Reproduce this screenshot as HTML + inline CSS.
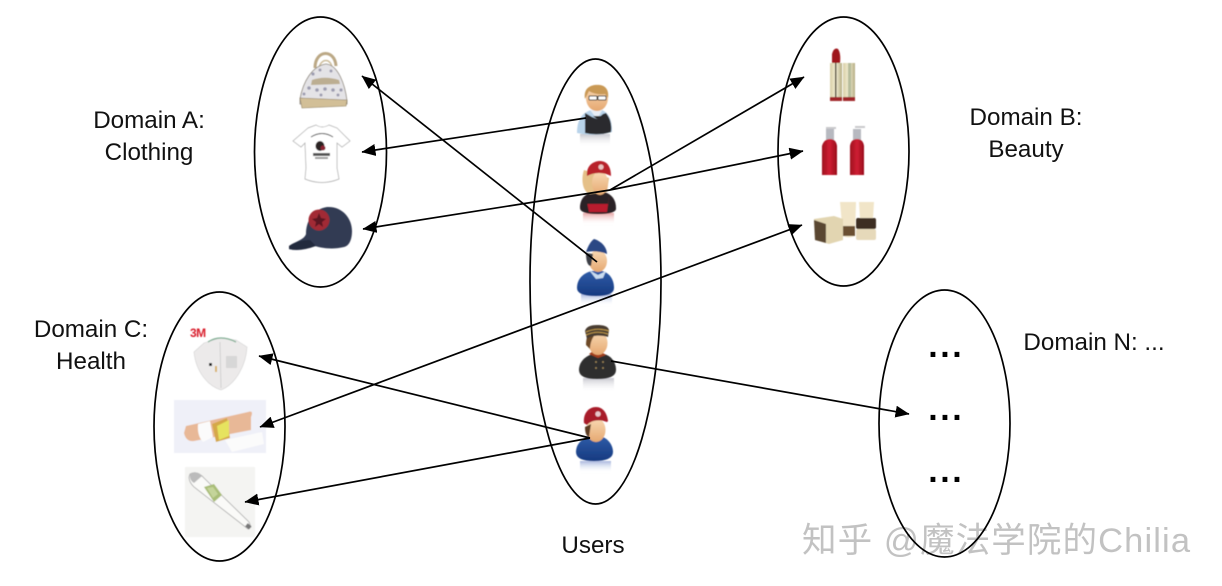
<!DOCTYPE html>
<html><head><meta charset="utf-8">
<style>
html,body{margin:0;padding:0;background:#fff;width:1222px;height:586px;overflow:hidden}
svg{display:block}
.t{font-family:"Liberation Sans",sans-serif;font-size:24.2px;fill:#111;text-anchor:middle}
.d{font-family:"Liberation Sans",sans-serif;font-weight:bold;font-size:34px;letter-spacing:2.55px;fill:#000}
.e{fill:none;stroke:#000;stroke-width:1.7}
.a{stroke:#000;stroke-width:1.7;fill:none;marker-end:url(#ah)}
</style></head><body>
<svg xmlns="http://www.w3.org/2000/svg" width="1222" height="586" viewBox="0 0 1222 586">
<defs>
<marker id="ah" viewBox="0 0 14 12" refX="13.5" refY="6" markerUnits="userSpaceOnUse" markerWidth="14" markerHeight="12" orient="auto-start-reverse"><path d="M0 0L14 6L0 12Z" fill="#000"/></marker>
<filter id="b1"><feGaussianBlur stdDeviation="0.6"/></filter>
<linearGradient id="refl" x1="0" y1="0" x2="0" y2="1"><stop offset="0" stop-color="#9a9aa8" stop-opacity=".55"/><stop offset="1" stop-color="#fff" stop-opacity="0"/></linearGradient>
<linearGradient id="reflb" x1="0" y1="0" x2="0" y2="1"><stop offset="0" stop-color="#6d86c8" stop-opacity=".6"/><stop offset="1" stop-color="#fff" stop-opacity="0"/></linearGradient>
<linearGradient id="reflr" x1="0" y1="0" x2="0" y2="1"><stop offset="0" stop-color="#d86a6a" stop-opacity=".6"/><stop offset="1" stop-color="#fff" stop-opacity="0"/></linearGradient>
<linearGradient id="skin" x1="0" y1="0" x2="0" y2="1"><stop offset="0" stop-color="#f9d9b4"/><stop offset="1" stop-color="#e5a871"/></linearGradient>
<linearGradient id="gold" x1="0" y1="0" x2="1" y2="0"><stop offset="0" stop-color="#d9cfa6"/><stop offset=".5" stop-color="#f3eed4"/><stop offset="1" stop-color="#b5ac82"/></linearGradient>
<linearGradient id="rb" x1="0" y1="0" x2="1" y2="0"><stop offset="0" stop-color="#9d0f1f"/><stop offset=".5" stop-color="#cf1f33"/><stop offset="1" stop-color="#9a0d1c"/></linearGradient>
<linearGradient id="blue" x1="0" y1="0" x2="0" y2="1"><stop offset="0" stop-color="#2f5ca8"/><stop offset="1" stop-color="#163a80"/></linearGradient>
</defs>

<!-- Domain A items -->
<g filter="url(#b1)">
  <path d="M315 68C315 49 335 49 336 66" fill="none" stroke="#bba885" stroke-width="3"/>
  <path d="M319 68C321 58 331 58 332 68" fill="none" stroke="#cdbd9c" stroke-width="1.6"/>
  <path d="M300 99C303 82 312 66 326 64C338 65 345 84 347 101L347 104L300 104Z" fill="#e4e3e6" stroke="#8b8478" stroke-width=".8"/>
  <path d="M300 98L347 100L346 106L302 108Z" fill="#d2bf97" stroke="#8b7a5a" stroke-width=".6"/>
  <path d="M312 80C320 77 330 77 339 80L340 84L311 85Z" fill="#bcae92"/>
  <g fill="#9c9cb0"><circle cx="313" cy="74" r="1.6"/><circle cx="320" cy="70" r="1.5"/><circle cx="331" cy="71" r="1.5"/><circle cx="309" cy="88" r="1.8"/><circle cx="317" cy="90" r="1.8"/><circle cx="325" cy="89" r="1.8"/><circle cx="333" cy="90" r="1.8"/><circle cx="341" cy="90" r="1.6"/><circle cx="304" cy="94" r="1.5"/><circle cx="321" cy="95" r="1.5"/><circle cx="338" cy="95" r="1.5"/></g>

  <path d="M308 128L316 125Q322 129 329 125L337 128L350 141L342 147L337 143L337 168L339 179Q322 186 305 179L306 168L305 143L301 147L293 141Z" fill="#fff" stroke="#a8a8a8" stroke-width=".7"/>
  <path d="M311 137Q322 130 333 137" fill="none" stroke="#444" stroke-width="1"/>
  <ellipse cx="320" cy="146" rx="4.5" ry="5" fill="#2a2024"/>
  <circle cx="323" cy="148" r="2.5" fill="#8a2030"/>
  <rect x="313" y="153" width="17" height="3" fill="#555"/>
  <rect x="315" y="157" width="13" height="2" fill="#999"/>

  <path d="M289 246C296 241 304 240 306 234C306 220 314 209 327 207C342 206 352 218 352 231C352 240 349 246 344 247C332 250 320 248 312 245C305 249 296 251 289 249Z" fill="#323b52"/>
  <path d="M289 246C297 241 304 240 310 240L316 246C305 250 296 251 289 249Z" fill="#232a3c"/>
  <circle cx="319" cy="220" r="10.5" fill="#a22a35"/>
  <path d="M319 213L321 218L326 219L322 222L323 227L319 224L315 227L316 222L312 219L317 218Z" fill="#5c1822"/>
</g>

<!-- Domain B items -->
<g filter="url(#b1)">
  <path d="M832 63L832 54Q834 47 838 49Q841 53 840 63Z" fill="#9f161d"/>
  <rect x="830" y="63" width="12" height="36" fill="url(#gold)"/>
  <rect x="843" y="63" width="12" height="36" fill="url(#gold)"/>
  <rect x="835" y="63" width="1.5" height="36" fill="#4c4632"/>
  <rect x="848" y="63" width="3" height="36" fill="#a7b190" opacity=".8"/>
  <rect x="830" y="97" width="12" height="4" fill="#a0252b"/>
  <rect x="843" y="97" width="12" height="4" fill="#a0252b"/>

  <rect x="826" y="127" width="10" height="2" fill="#c9c9cc"/>
  <rect x="826" y="129" width="8" height="12" fill="#b7b9c0"/>
  <path d="M822 146Q824 139 830 139Q836 139 837 146L837 175L822 175Z" fill="url(#rb)"/>
  <rect x="855" y="126" width="10" height="2" fill="#c9c9cc"/>
  <rect x="853" y="129" width="8" height="12" fill="#b7b9c0"/>
  <path d="M850 146Q851 139 857 139Q863 139 864 146L864 175L850 175Z" fill="url(#rb)"/>

  <path d="M840 202H856L855 236Q848 239 843 236Z" fill="#f1e5c8"/>
  <rect x="843" y="226" width="12" height="10" fill="#6a5030"/>
  <path d="M859 202H874L873 219H860Z" fill="#f1e5c8"/>
  <rect x="856" y="218" width="20" height="11" rx="2" fill="#3e2e22"/>
  <rect x="856" y="229" width="20" height="11" rx="2" fill="#e6d9ba"/>
  <path d="M814 219L834 216L843 219L843 240L829 244L815 240Z" fill="#e2d5b1"/>
  <path d="M814 220L826 224L826 243L815 240Z" fill="#5a4632"/>
</g>

<!-- Domain C items -->
<g filter="url(#b1)">
  <text x="190" y="337" font-family="Liberation Sans" font-weight="bold" font-size="12" letter-spacing="-.5" fill="#d81f2a">3M</text>
  <path d="M204 343L220 338L236 340L247 347C246 365 236 384 221 390C208 386 196 372 194 352Z" fill="#eceaea" stroke="#d2d2d2" stroke-width=".6"/>
  <path d="M208 342Q220 334 236 342" fill="none" stroke="#7fae93" stroke-width="1.3"/>
  <path d="M220 342L221 388" stroke="#cacaca" stroke-width=".8"/>
  <rect x="209" y="363" width="3" height="3" fill="#222"/>
  <rect x="215" y="366" width="2" height="6" fill="#d9b36a"/>
  <rect x="226" y="356" width="11" height="12" fill="#d7d7d7"/>

  <rect x="174" y="400" width="92" height="53" fill="#eff0f8"/>
  <path d="M186 426L248 412Q254 410 251 417L251 430L194 441Q186 442 184 433Z" fill="#e8b897"/>
  <path d="M198 424L210 421L213 437L203 442Q197 436 198 424Z" fill="#fbfbfb"/>
  <path d="M225 440L262 432L264 444L232 452Z" fill="#fbfbfb"/>
  <path d="M212 424L227 418L230 438L216 442Z" fill="#d5a84a"/>
  <path d="M217 426L229 420L229 436L219 440Z" fill="#e6e35f"/>

  <rect x="185" y="467" width="70" height="70" fill="#f4f4f2"/>
  <path d="M190 474Q197 470 204 478L249 522L251 527L248 529L194 487Q187 480 190 474Z" fill="#fafaf8" stroke="#aaa" stroke-width=".8"/>
  <path d="M190 474Q197 470 202 476L194 483Q189 480 190 474Z" fill="#bbb"/>
  <path d="M204 487L214 484L222 495L214 502Z" fill="#a9bd78"/>
  <path d="M207 488L213 487L218 494L213 498Z" fill="#c4d49a"/>
  <rect x="246" y="524" width="5" height="4" fill="#777" transform="rotate(40 248 526)"/>
</g>

<!-- Users -->
<g filter="url(#b1)">
  <rect x="580" y="134" width="30" height="13" fill="url(#refl)"/>
  <path d="M577 133C577 120 582 112 592 110L602 110C609 113 612 120 612 132Q595 137 577 133Z" fill="#b8d3ea"/>
  <path d="M585 113L592 117L597 119L603 114L606 113C610 118 612 124 611 132Q598 136 585 133Z" fill="#2a2a2e"/>
  <path d="M590 110L597 119L603 109Z" fill="#e8eef5"/>
  <path d="M593 116H601L597 119Z" fill="#222"/>
  <ellipse cx="597" cy="98" rx="11" ry="13" fill="url(#skin)"/>
  <path d="M585 99C583 87 592 84 600 85C607 86 609 92 608 98L605 94C598 95 592 93 589 91Z" fill="#c99955"/>
  <rect x="589" y="96" width="8" height="4" rx="1" fill="#fff" stroke="#222" stroke-width=".9"/>
  <rect x="598" y="96" width="8" height="4" rx="1" fill="#fff" stroke="#222" stroke-width=".9"/>

  <rect x="583" y="213" width="31" height="12" fill="url(#reflr)"/>
  <path d="M580 208C580 198 586 193 594 192L604 192C612 194 616 200 616 208Q617 214 598 214Q580 214 580 208Z" fill="#2b2426"/>
  <path d="M586 197H609L607 212H589Z" fill="#b81c2e"/>
  <path d="M586 197H609L608 204H587Z" fill="#2b2426"/>
  <path d="M584 170C581 178 582 192 590 194L607 192L609 178Z" fill="#e5c088"/>
  <ellipse cx="600" cy="183" rx="8" ry="12" fill="url(#skin)"/>
  <path d="M587 176C586 166 593 161 600 161C608 161 611 168 611 176C604 172 594 172 587 176Z" fill="#b8202c"/>
  <circle cx="601" cy="167" r="2.6" fill="#e9c3c0"/>

  <rect x="581" y="294" width="31" height="12" fill="url(#reflb)"/>
  <path d="M577 288C577 279 583 273 592 271L602 271C610 273 614 280 614 288Q614 296 596 296Q577 296 577 288Z" fill="url(#blue)"/>
  <path d="M589 270L598 275L606 271L603 278L596 279Z" fill="#c9dcf0"/>
  <ellipse cx="598" cy="261" rx="9" ry="11" fill="url(#skin)"/>
  <path d="M586 253C586 262 588 266 591 266L593 254Z" fill="#3b3d45"/>
  <path d="M586 252C588 246 591 241 594 239C601 241 607 247 607 254C600 251 592 251 586 252Z" fill="#2c4684"/>

  <rect x="583" y="378" width="31" height="14" fill="url(#refl)"/>
  <path d="M579 370C579 362 585 356 593 354L604 354C612 356 616 363 616 370Q616 379 597 379Q579 379 579 370Z" fill="#2e2e2e"/>
  <path d="M589 354L598 358L606 355L600 351H593Z" fill="#a3401f"/>
  <g fill="#a8905a"><circle cx="596" cy="362" r=".9"/><circle cx="603" cy="362" r=".9"/><circle cx="596" cy="368" r=".9"/><circle cx="603" cy="368" r=".9"/></g>
  <ellipse cx="598" cy="343" rx="9.5" ry="12" fill="url(#skin)"/>
  <path d="M586 345C586 340 587 336 589 333L594 336C591 340 590 346 590 349Z" fill="#6d4a28"/>
  <path d="M585 331C586 327 590 325 597 325C603 325 608 326 609 330L608 337C601 335 592 335 587 339Z" fill="#4a3c30"/>
  <path d="M586 332Q597 327 609 331M586 335Q597 330 608 334" fill="none" stroke="#c29a4a" stroke-width="1"/>

  <rect x="580" y="461" width="31" height="12" fill="url(#reflb)"/>
  <path d="M576 452C576 444 582 438 591 436L600 436C608 438 613 445 613 452Q613 461 594 461Q576 461 576 452Z" fill="url(#blue)"/>
  <ellipse cx="596" cy="430" rx="9.5" ry="12" fill="url(#skin)"/>
  <path d="M585 427C585 432 586 436 589 437L591 424Z" fill="#5c3a22"/>
  <path d="M584 423C583 413 589 407 596 407C603 407 607 413 608 421L607 422C600 419 591 420 587 425Z" fill="#a81c2a"/>
  <circle cx="598" cy="414" r="2.7" fill="#e9c8cc"/>
</g>

<!-- Watermark -->
<text x="802" y="552" font-family="'Liberation Sans','Noto Sans CJK SC',sans-serif" font-size="34.5" fill="#c2c2c2" textLength="388" lengthAdjust="spacing" xml:space="preserve">知乎 @魔法学院的Chilia</text>

<!-- Ellipses -->
<ellipse class="e" cx="320.5" cy="152" rx="66" ry="135"/>
<ellipse class="e" cx="843.5" cy="151.5" rx="65.5" ry="134.5"/>
<ellipse class="e" cx="595.5" cy="281.5" rx="65.5" ry="222.5"/>
<ellipse class="e" cx="219.5" cy="426.5" rx="65.5" ry="134.5"/>
<ellipse class="e" cx="944.5" cy="423.5" rx="65.5" ry="133.5"/>

<!-- Connectors -->
<line class="a" x1="597" y1="262" x2="362" y2="76"/>
<line class="a" x1="586" y1="118" x2="362" y2="152"/>
<line class="a" x1="610" y1="190" x2="804" y2="77"/>
<line class="a" x1="610" y1="190" x2="803" y2="151"/>
<line class="a" x1="610" y1="190" x2="363" y2="229"/>
<line class="a" x1="802" y1="225" x2="260" y2="427" style="marker-start:url(#ah)"/>
<line class="a" x1="611" y1="361" x2="909" y2="414"/>
<line class="a" x1="590" y1="438" x2="259" y2="356"/>
<line class="a" x1="590" y1="438" x2="245" y2="502"/>

<!-- Dots -->
<text class="d" x="928.3" y="357">...</text>
<text class="d" x="928.3" y="420">...</text>
<text class="d" x="928.3" y="482">...</text>

<!-- Labels -->
<text class="t" x="149" y="128">Domain A:</text>
<text class="t" x="149" y="160">Clothing</text>
<text class="t" x="1026" y="125">Domain B:</text>
<text class="t" x="1026" y="157">Beauty</text>
<text class="t" x="91" y="337">Domain C:</text>
<text class="t" x="91" y="369">Health</text>
<text class="t" x="1094" y="350">Domain N: ...</text>
<text class="t" x="593" y="553">Users</text>
</svg>
</body></html>
